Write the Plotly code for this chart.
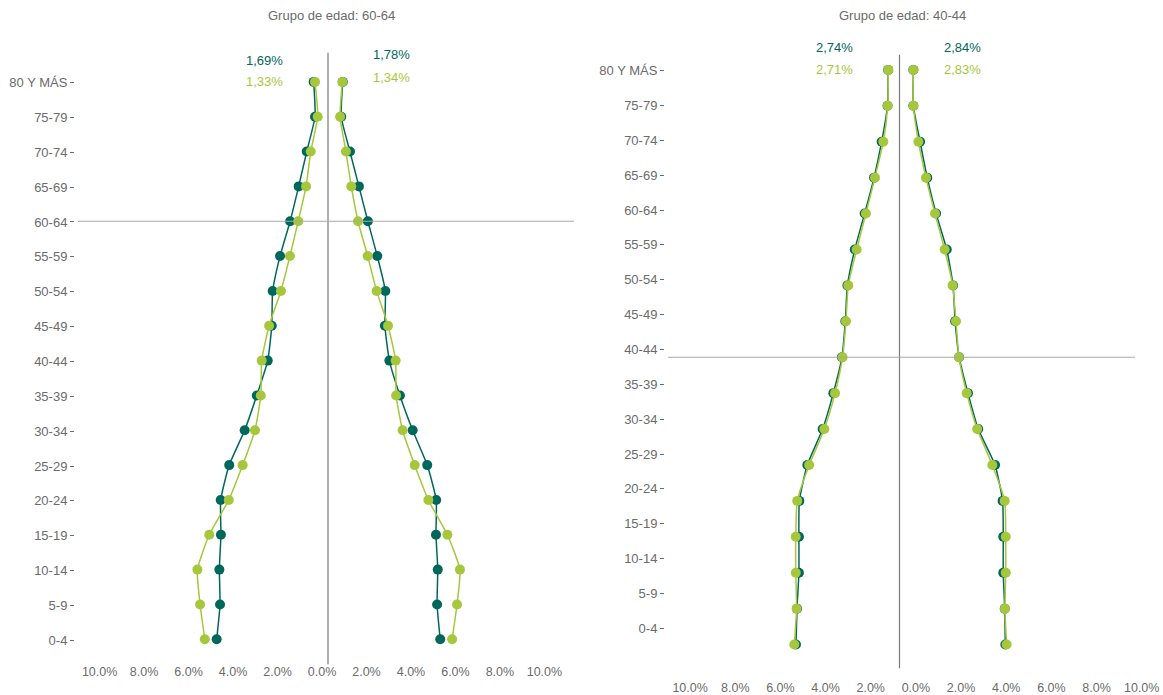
import plotly.graph_objects as go

W, H = 1163, 695

age_groups = ["0-4", "5-9", "10-14", "15-19", "20-24", "25-29", "30-34", "35-39",
              "40-44", "45-49", "50-54", "55-59", "60-64", "65-69", "70-74",
              "75-79", "80 Y MÁS"]

x_tick_values = [-10, -8, -6, -4, -2, 0, 2, 4, 6, 8, 10]

# Panel 1: Grupo de edad 60-64 (values in %, from 0-4 up to 80 Y MÁS)
p1_title = "Grupo de edad: 60-64"
p1_highlight = "60-64"
p1_dark_left = [4.97, 4.82, 4.85, 4.78, 4.79, 4.41, 3.72, 3.18, 2.69, 2.51, 2.47, 2.14, 1.69, 1.31, 0.95, 0.58, 0.64]
p1_light_left = [5.50, 5.71, 5.83, 5.30, 4.43, 3.81, 3.26, 3.00, 2.96, 2.63, 2.10, 1.70, 1.33, 0.98, 0.77, 0.46, 0.58]
p1_dark_right = [5.01, 4.87, 4.90, 4.82, 4.83, 4.43, 3.78, 3.21, 2.74, 2.54, 2.56, 2.20, 1.78, 1.38, 0.98, 0.59, 0.66]
p1_light_right = [5.54, 5.76, 5.89, 5.33, 4.48, 3.87, 3.33, 3.04, 3.02, 2.68, 2.17, 1.77, 1.34, 1.04, 0.80, 0.54, 0.64]

# Panel 2: Grupo de edad 40-44
p2_title = "Grupo de edad: 40-44"
p2_highlight = "40-44"
p2_dark_left = [4.93, 4.88, 4.79, 4.79, 4.77, 4.39, 3.66, 3.15, 2.74, 2.58, 2.48, 2.13, 1.66, 1.21, 0.85, 0.57, 0.54]
p2_light_left = [5.01, 4.90, 4.94, 4.94, 4.87, 4.30, 3.58, 3.07, 2.71, 2.55, 2.44, 2.04, 1.60, 1.17, 0.77, 0.56, 0.53]
p2_dark_right = [5.04, 5.01, 4.94, 4.94, 4.91, 4.55, 3.75, 3.26, 2.84, 2.65, 2.55, 2.25, 1.74, 1.32, 0.98, 0.66, 0.66]
p2_light_right = [5.10, 5.02, 5.06, 5.06, 5.01, 4.42, 3.70, 3.20, 2.83, 2.69, 2.53, 2.15, 1.69, 1.26, 0.90, 0.66, 0.66]

DARK = "#00685b"
LIGHT = "#a6c73c"
GRAY = "#6b6b6b"
FONT = "Liberation Sans, Arial, sans-serif"


def fx(px):
    return px / W


def fy(py):
    return 1 - py / H


def lin_range(a_px, b_px, zero_px, scale):
    return [(a_px - zero_px) / scale, (b_px - zero_px) / scale]


def cat_range(top_px, bottom_px, idx0_px, step):
    return [-(bottom_px - idx0_px) / step, (idx0_px - top_px) / step]


panels = [
    dict(title=p1_title, hl=p1_highlight,
         series=[(p1_dark_left, p1_dark_right, DARK), (p1_light_left, p1_light_right, LIGHT)],
         data_x=(78, 574, 328, 22.4), data_y=(53, 668, 643, 35.04),
         lab_x=(40, 600, 322, 22.24, 666), lab_y=(30, 690, 644, 35.06, 74),
         title_pos=(331, 16),
         ann=[(264, 60.5, 264, 82), (392, 55, 392, 77.5)]),
    dict(title=p2_title, hl=p2_highlight,
         series=[(p2_dark_left, p2_dark_right, DARK), (p2_light_left, p2_light_right, LIGHT)],
         data_x=(668, 1135, 899.5, 21.0), data_y=(55, 672, 648.3, 36.125),
         lab_x=(640, 1163, 915.9, 22.58, 682), lab_y=(30, 690, 632, 35.06, 664),
         title_pos=(902, 16),
         ann=[(834, 47.5, 834, 69.5), (962, 47.5, 962, 69.5)]),
]

fig = go.Figure()
layout = dict(width=W, height=H, margin=dict(l=0, r=0, t=0, b=0),
              paper_bgcolor="white", plot_bgcolor="rgba(0,0,0,0)",
              showlegend=False, font=dict(family=FONT, color=GRAY, size=13))
shapes = []
annotations = []


def fmt(v):
    return ("%.2f" % v).replace(".", ",") + "%"


for i, p in enumerate(panels):
    dx = "x" if i == 0 else "x2"
    dy = "y" if i == 0 else "y2"
    lx = "x%d" % (3 + 2 * i)
    ly = "y%d" % (3 + 2 * i)
    dxk = "xaxis" if i == 0 else "xaxis2"
    dyk = "yaxis" if i == 0 else "yaxis2"
    lxk = "xaxis%d" % (3 + 2 * i)
    lyk = "yaxis%d" % (3 + 2 * i)

    # data traces (dark first, light on top)
    for left_vals, right_vals, color in p["series"]:
        for vals, sign in ((left_vals, -1), (right_vals, 1)):
            fig.add_trace(go.Scatter(
                x=[sign * v for v in vals], y=age_groups, mode="lines+markers",
                line=dict(color=color, width=1.5, shape="spline", smoothing=0.5),
                marker=dict(size=10, color=color),
                xaxis=dx, yaxis=dy, hoverinfo="skip", showlegend=False))
    # empty trace to carry the label axes
    fig.add_trace(go.Scatter(x=[], y=[], xaxis=lx, yaxis=ly, hoverinfo="skip", showlegend=False))

    xa, xb, z, s = p["data_x"]
    ya, yb, y0, st = p["data_y"]
    layout[dxk] = dict(domain=[fx(xa), fx(xb)], range=lin_range(xa, xb, z, s),
                       showticklabels=False, showgrid=False, zeroline=False,
                       showline=False, ticks="", anchor=dy, fixedrange=True)
    layout[dyk] = dict(domain=[fy(yb), fy(ya)], range=cat_range(ya, yb, y0, st),
                       type="category", categoryorder="array", categoryarray=age_groups,
                       showticklabels=False, showgrid=False, zeroline=False,
                       showline=False, ticks="", anchor=dx, fixedrange=True)

    lxa, lxb, lz, ls, lpos = p["lab_x"]
    layout[lxk] = dict(domain=[fx(lxa), fx(lxb)], range=lin_range(lxa, lxb, lz, ls),
                       tickvals=x_tick_values,
                       ticktext=["%.1f%%" % abs(v) for v in x_tick_values],
                       anchor="free", position=fy(lpos), showgrid=False, zeroline=False,
                       showline=False, ticks="", tickfont=dict(size=12.5, color=GRAY),
                       fixedrange=True)
    lya, lyb, ly0, lst, lxpos = p["lab_y"]
    layout[lyk] = dict(domain=[fy(lyb), fy(lya)], range=cat_range(lya, lyb, ly0, lst),
                       tickvals=list(range(len(age_groups))), ticktext=age_groups,
                       anchor="free", position=fx(lxpos), showgrid=False, zeroline=False,
                       showline=False, ticks="outside", ticklen=4, tickcolor=GRAY,
                       tickwidth=1, tickfont=dict(size=13, color=GRAY), fixedrange=True)

    # zero line and highlight line
    shapes.append(dict(type="line", xref=dx, yref=dy + " domain", x0=0, x1=0, y0=0, y1=1,
                       line=dict(color="#7a7a7a", width=1.2)))
    hl_idx = age_groups.index(p["hl"])
    shapes.append(dict(type="line", xref=dx + " domain", yref=dy, x0=0, x1=1, y0=hl_idx, y1=hl_idx,
                       line=dict(color="#a8a8a8", width=1)))

    tx, ty = p["title_pos"]
    annotations.append(dict(text=p["title"], x=fx(tx), y=fy(ty), xref="paper", yref="paper",
                            showarrow=False, xanchor="center", yanchor="middle",
                            font=dict(size=13, color=GRAY)))
    (lxd, lyd, lxl, lyl), (rxd, ryd, rxl, ryl) = p["ann"]
    (dl, dr, _), (ll, lr, _) = p["series"]
    for x_, y_, v, c in ((lxd, lyd, dl[hl_idx], DARK), (lxl, lyl, ll[hl_idx], LIGHT),
                         (rxd, ryd, dr[hl_idx], DARK), (rxl, ryl, lr[hl_idx], LIGHT)):
        annotations.append(dict(text=fmt(v), x=fx(x_), y=fy(y_), xref="paper", yref="paper",
                                showarrow=False, xanchor="center", yanchor="middle",
                                font=dict(size=13, color=c)))

layout["shapes"] = shapes
layout["annotations"] = annotations
fig.update_layout(**layout)

page_css = (
    "var s=document.createElement('style');"
    "s.textContent='html,body{margin:0;padding:0;overflow:hidden;width:1163px;height:695px;}';"
    "document.head.appendChild(s);"
)
fig.write_html("out.html", config={"displayModeBar": False}, post_script=page_css)
